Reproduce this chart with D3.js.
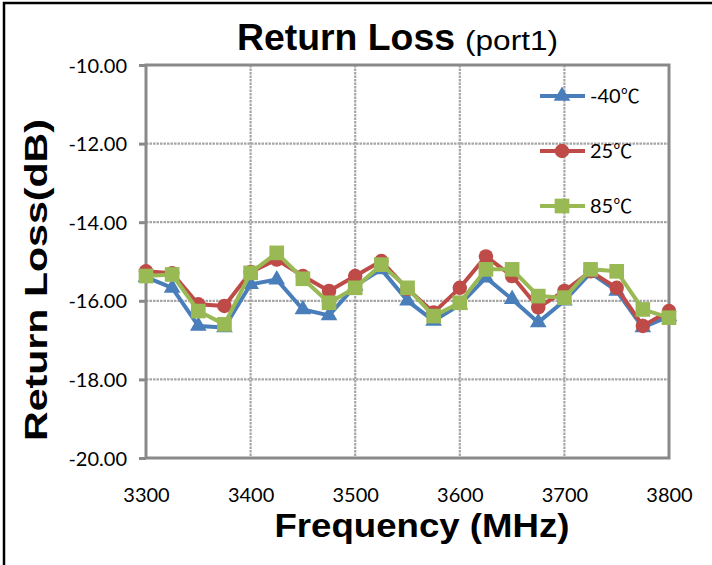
<!DOCTYPE html>
<html>
<head>
<meta charset="utf-8">
<script src="https://cdn.jsdelivr.net/npm/d3@7"></script>
<style>
  html, body { margin: 0; padding: 0; background: #ffffff; }
  svg { display: block; }
</style>
</head>
<body>
<div id="chart"></div>
<script>
// ── DATA ──
const frequencies = [3300, 3325, 3350, 3375, 3400, 3425, 3450, 3475, 3500, 3525, 3550,
  3575, 3600, 3625, 3650, 3675, 3700, 3725, 3750, 3775, 3800];
const lossMinus40 = [-15.40, -15.67, -16.64, -16.68, -15.58, -15.46, -16.22, -16.37, -15.62, -15.20, -16.00,
  -16.51, -16.10, -15.41, -15.96, -16.55, -16.00, -15.29, -15.75, -16.68, -16.40];
const loss25 = [-15.25, -15.30, -16.09, -16.13, -15.27, -14.95, -15.37, -15.75, -15.37, -14.99, -15.70,
  -16.30, -15.67, -14.87, -15.37, -16.17, -15.75, -15.25, -15.67, -16.64, -16.26];
const loss85 = [-15.37, -15.33, -16.26, -16.60, -15.29, -14.78, -15.44, -16.05, -15.67, -15.08, -15.67,
  -16.39, -16.05, -15.20, -15.20, -15.88, -15.92, -15.20, -15.25, -16.22, -16.43];
const seriesNames = ["-40", "25", "85"];
const unitLabel = "℃";
const xTicks = [3300, 3400, 3500, 3600, 3700, 3800];
const yTicks = [-10, -12, -14, -16, -18, -20];

const W = 712, H = 565;
const plot = { left: 146, right: 669, top: 65, bottom: 458 };
const tickFont = "Lato, 'Liberation Sans', sans-serif";
const boldFont = "'Liberation Sans', Arial, sans-serif";
const gridColor = "#a6a6a6";
const axisColor = "#898989";

const series = [
  { name: seriesNames[0], values: lossMinus40, color: "#4a7ebb", shape: d3.symbolTriangle, size: 120 },
  { name: seriesNames[1], values: loss25, color: "#be4b48", shape: d3.symbolCircle, size: 165 },
  { name: seriesNames[2], values: loss85, color: "#98b954", shape: d3.symbolSquare, size: 215 },
];

const svg = d3.select("#chart").append("svg")
  .attr("width", W).attr("height", H);

svg.append("rect").attr("width", W).attr("height", H).attr("fill", "#ffffff");

// outer frame (top + left visible)
svg.append("path")
  .attr("d", `M4,${H} L4,3 L${W},3`)
  .attr("fill", "none").attr("stroke", "#000").attr("stroke-width", 2.5);

const x = d3.scaleLinear().domain([3300, 3800]).range([plot.left, plot.right]);
const y = d3.scaleLinear().domain([-20, -10]).range([plot.bottom, plot.top]);

// ── GRID ──
const grid = svg.append("g");
grid.selectAll("line.h").data(yTicks.filter((v) => v !== -10 && v !== -20)).enter()
  .append("line")
  .attr("x1", plot.left).attr("x2", plot.right)
  .attr("y1", (d) => y(d)).attr("y2", (d) => y(d))
  .attr("stroke", gridColor).attr("stroke-width", 2.2)
  .attr("stroke-dasharray", "2.5,1");
grid.selectAll("line.v").data(xTicks.filter((v) => v !== 3300 && v !== 3800)).enter()
  .append("line")
  .attr("y1", plot.top).attr("y2", plot.bottom)
  .attr("x1", (d) => x(d)).attr("x2", (d) => x(d))
  .attr("stroke", gridColor).attr("stroke-width", 2.2)
  .attr("stroke-dasharray", "2.5,1");

// plot border
svg.append("rect")
  .attr("x", plot.left).attr("y", plot.top)
  .attr("width", plot.right - plot.left).attr("height", plot.bottom - plot.top)
  .attr("fill", "none").attr("stroke", axisColor).attr("stroke-width", 3);

// ── AXES ──
// hyphen instead of the unicode minus d3 uses
const yFmt = (d) => d3.format(".2f")(d).replace("\u2212", "-");
const yAxis = d3.axisLeft(y).tickValues(yTicks).tickSize(7).tickPadding(12)
  .tickFormat(yFmt);
const yG = svg.append("g").attr("transform", `translate(${plot.left},0)`).call(yAxis);
yG.select(".domain").remove();
yG.selectAll(".tick line").attr("stroke", axisColor).attr("stroke-width", 3);
yG.selectAll(".tick text")
  .attr("fill", "#000").style("font-family", tickFont).style("font-size", "20px")
  .attr("dy", "0.35em");

const xAxis = d3.axisBottom(x).tickValues(xTicks).tickSize(0).tickPadding(30)
  .tickFormat(d3.format("d"));
const xG = svg.append("g").attr("transform", `translate(0,${plot.bottom})`).call(xAxis);
xG.select(".domain").remove();
xG.selectAll(".tick text")
  .attr("fill", "#000").style("font-family", tickFont).style("font-size", "20px");

// ── TITLES ──
svg.append("text")
  .attr("x", 237).attr("y", 50)
  .style("font-family", boldFont)
  .style("font-weight", "bold").style("font-size", "37px")
  .attr("textLength", 218).attr("lengthAdjust", "spacingAndGlyphs")
  .attr("fill", "#000")
  .text("Return Loss");
svg.append("text")
  .attr("x", 465).attr("y", 50)
  .style("font-family", boldFont)
  .style("font-size", "27px")
  .attr("textLength", 93).attr("lengthAdjust", "spacingAndGlyphs")
  .attr("fill", "#000")
  .text("(port1)");

svg.append("text")
  .attr("x", 422).attr("y", 537)
  .attr("text-anchor", "middle")
  .style("font-family", boldFont)
  .style("font-weight", "bold").style("font-size", "33px")
  .attr("textLength", 295).attr("lengthAdjust", "spacingAndGlyphs")
  .text("Frequency (MHz)");

svg.append("text")
  .attr("transform", "translate(47,280) rotate(-90)")
  .attr("text-anchor", "middle")
  .style("font-family", boldFont)
  .style("font-weight", "bold").style("font-size", "31px")
  .attr("textLength", 322).attr("lengthAdjust", "spacingAndGlyphs")
  .text("Return Loss(dB)");

// ── SERIES ──
const line = d3.line()
  .x((d, i) => x(frequencies[i]))
  .y((d) => y(d));

series.forEach((s) => {
  const g = svg.append("g");
  g.append("path")
    .attr("d", line(s.values))
    .attr("fill", "none").attr("stroke", s.color)
    .attr("stroke-width", 4).attr("stroke-linejoin", "round");
  g.selectAll("path.marker").data(s.values).enter()
    .append("path")
    .attr("d", d3.symbol().type(s.shape).size(s.size))
    .attr("transform", (d, i) => `translate(${x(frequencies[i])},${y(d)})`)
    .attr("fill", s.color);
});

// ── LEGEND ──
const legendY = [96, 151, 206];
series.forEach((s, i) => {
  const g = svg.append("g").attr("transform", `translate(540,${legendY[i]})`);
  g.append("line").attr("x1", 0).attr("x2", 45)
    .attr("stroke", s.color).attr("stroke-width", 4);
  g.append("path")
    .attr("d", d3.symbol().type(s.shape).size(s.size))
    .attr("transform", "translate(22,0)")
    .attr("fill", s.color);
  const t = g.append("text").attr("x", 50).attr("y", 0).attr("dy", "0.36em")
    .style("font-family", tickFont).style("font-size", "20px")
    .attr("fill", "#000");
  t.append("tspan").text(s.name);
  t.append("tspan").text(unitLabel)
    .style("font-family", "'Noto Sans CJK SC', sans-serif")
    .style("font-size", "19px");
});
</script>
</body>
</html>
